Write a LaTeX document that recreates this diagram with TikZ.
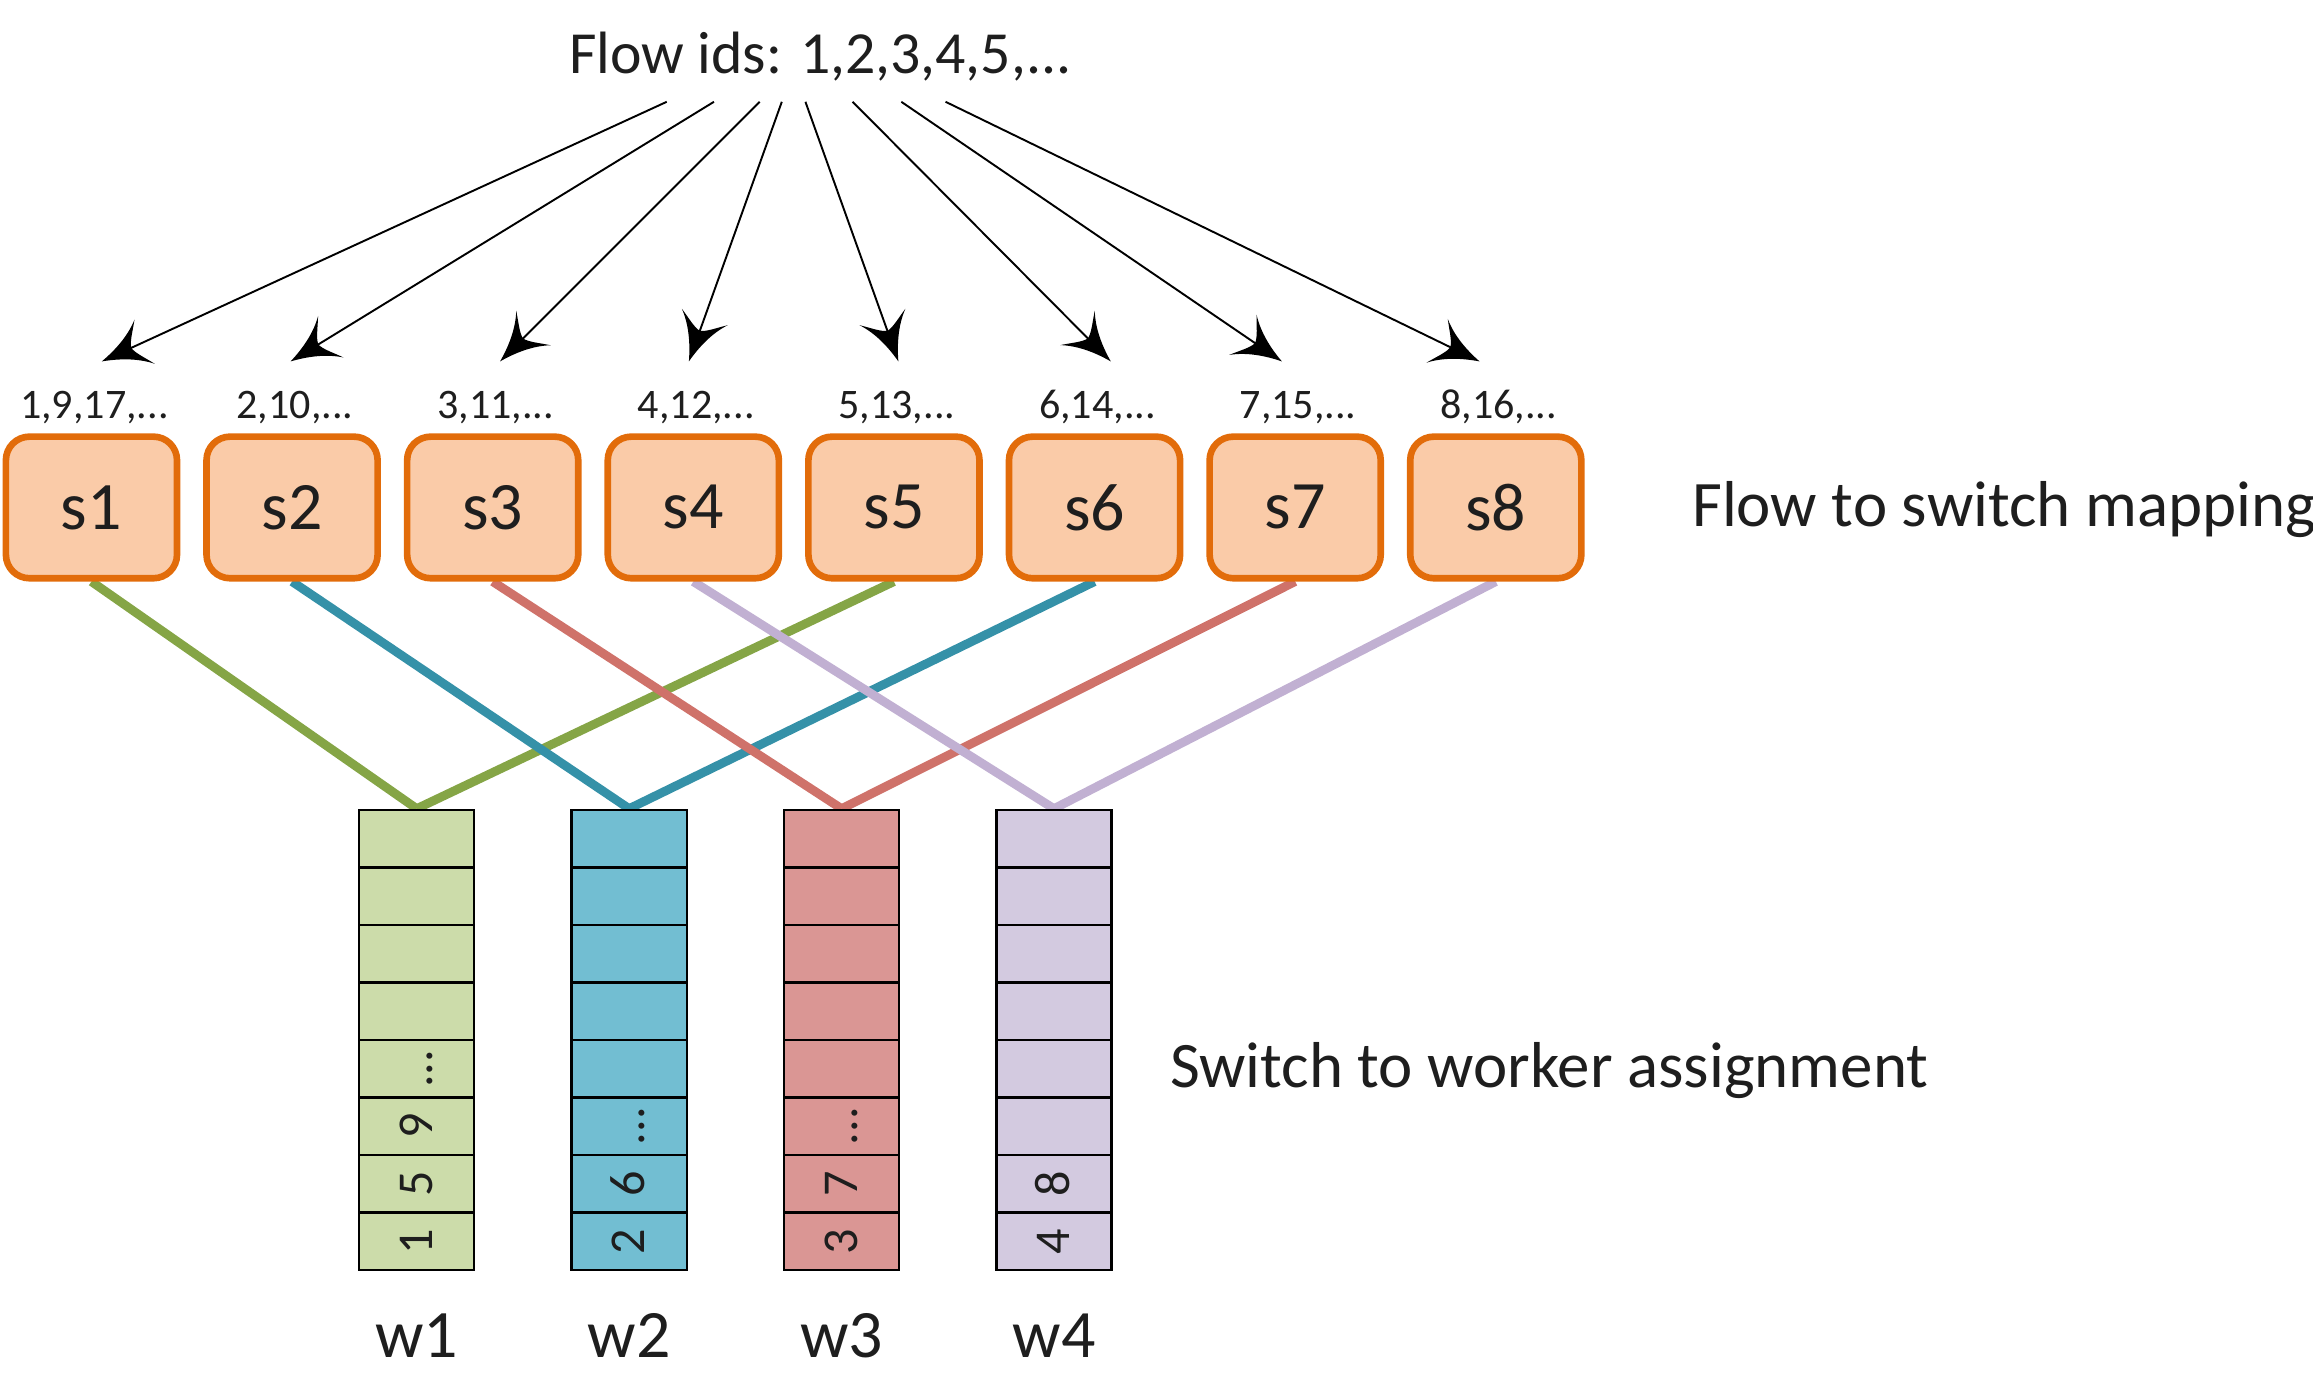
\documentclass[tikz,border=0pt]{standalone}
\usepackage{fontspec}
\setmainfont{Carlito}
\usetikzlibrary{arrows.meta}
\pgfdeclarelayer{background}
\pgfsetlayers{background,main}
\pgfdeclarearrow{
  name=CurvyHead,
  setup code={
    \pgfarrowssettipend{0pt}
    \pgfarrowssetbackend{-32pt}
    \pgfarrowssetlineend{-21pt}
    \pgfarrowshullpoint{0pt}{0pt}
    \pgfarrowshullpoint{-32pt}{16.5pt}
    \pgfarrowshullpoint{-32pt}{-16.5pt}
  },
  drawing code={
    \pgfpathmoveto{\pgfqpoint{0pt}{0pt}}
    \pgfpathcurveto{\pgfqpoint{-11pt}{3pt}}{\pgfqpoint{-23pt}{8pt}}{\pgfqpoint{-32pt}{16.5pt}}
    \pgfpathcurveto{\pgfqpoint{-27pt}{9pt}}{\pgfqpoint{-23pt}{4.5pt}}{\pgfqpoint{-22pt}{0pt}}
    \pgfpathcurveto{\pgfqpoint{-23pt}{-4.5pt}}{\pgfqpoint{-27pt}{-9pt}}{\pgfqpoint{-32pt}{-16.5pt}}
    \pgfpathcurveto{\pgfqpoint{-23pt}{-8pt}}{\pgfqpoint{-11pt}{-3pt}}{\pgfqpoint{0pt}{0pt}}
    \pgfpathclose
    \pgfusepathqfill
  }
}
\definecolor{boxfill}{RGB}{250,203,168}
\definecolor{boxdraw}{RGB}{226,108,10}
\definecolor{gline}{RGB}{133,165,70}
\definecolor{gfill}{RGB}{204,220,170}
\definecolor{bline}{RGB}{53,145,168}
\definecolor{bfill}{RGB}{114,190,210}
\definecolor{rline}{RGB}{207,114,106}
\definecolor{rfill}{RGB}{218,150,148}
\definecolor{pline}{RGB}{193,176,210}
\definecolor{pfill}{RGB}{211,202,224}
\definecolor{txt}{RGB}{30,30,30}
\begin{document}
\begin{tikzpicture}[x=1pt,y=-1pt,
  switchbox/.style={draw=boxdraw, line width=4.5pt, fill=boxfill, rounded corners=16pt,
    minimum width=116pt, minimum height=96pt, inner sep=0pt,
    font=\fontsize{46}{50}\selectfont, text=txt},
  maplabel/.style={font=\fontsize{28.5}{32}\selectfont, text=txt, anchor=base, inner sep=0pt},
  bigtext/.style={font=\fontsize{44}{48}\selectfont, text=txt, inner sep=0pt},
  cell/.style={draw=black, line width=1.6pt, minimum width=78pt, minimum height=39pt, inner sep=0pt},
  celltext/.style={rotate=90, font=\fontsize{34}{38}\selectfont, text=txt, inner sep=0pt,
    text height=21pt, text depth=0pt},
  wlabel/.style={font=\fontsize{46}{50}\selectfont, text=txt, anchor=base, inner sep=0pt},
  flowarrow/.style={line width=1.3pt, -CurvyHead},
  conn/.style={line width=6pt}
]
\useasboundingbox (0,0) rectangle (1568,932);

% title
\node[bigtext, font=\fontsize{40.5}{46}\selectfont, anchor=base] (title) at (556,50) {Flow ids: 1,2,3,4,5,...};

% switch boxes and labels
\foreach \i/\x/\lab in {1/62/{1,9,17,...},2/198/{2,10,...},3/334/{3,11,...},4/470/{4,12,...},
                        5/606/{5,13,...},6/742/{6,14,...},7/878/{7,15,...},8/1014/{8,16,...}}{
  \node[switchbox] (s\i) at (\x,344) {s\i};
  \node[maplabel] (l\i) at (\x+2,284) {\lab};
}

\node[bigtext, anchor=base west] (maptext) at (1147,357) {Flow to switch mapping};
\node[bigtext, anchor=base west] (assigntext) at (793,737) {Switch to worker assignment};

% arrow start and tip coordinates
\foreach \i/\sx/\tx in {1/452/69,2/484/197,3/515/339,4/530/467,5/546/609,6/578/753,7/611/869,8/641/1003}{
  \coordinate (f\i) at (\sx,69);
  \coordinate (t\i) at (\tx,245);
  \draw[flowarrow] (f\i) -- (t\i);
}

% worker columns
\foreach \w/\x/\fc in {1/282.5/gfill,2/426.5/bfill,3/570.5/rfill,4/714.5/pfill}{
  \foreach \k in {1,...,8}{
    \node[cell, fill=\fc] (c\w\k) at (\x,{841.5-39*(\k-1)}) {};
  }
  \node[wlabel] (w\w) at (\x,920) {w\w};
}

% cell texts
\node[celltext] at (c11) {1};
\node[celltext] at (c12) {5};
\node[celltext] at (c13) {9};
\node[celltext] at (c14) {...};
\node[celltext] at (c21) {2};
\node[celltext] at (c22) {6};
\node[celltext] at (c23) {...};
\node[celltext] at (c31) {3};
\node[celltext] at (c32) {7};
\node[celltext] at (c33) {...};
\node[celltext] at (c41) {4};
\node[celltext] at (c42) {8};

% connectors (right-hand switches first, left-hand ones on top)
\begin{pgfonlayer}{background}
  \draw[conn, gline] (s5.south) -- (c18.north);
  \draw[conn, bline] (s6.south) -- (c28.north);
  \draw[conn, rline] (s7.south) -- (c38.north);
  \draw[conn, pline] (s8.south) -- (c48.north);
  \draw[conn, gline] (s1.south) -- (c18.north);
  \draw[conn, bline] (s2.south) -- (c28.north);
  \draw[conn, rline] (s3.south) -- (c38.north);
  \draw[conn, pline] (s4.south) -- (c48.north);
\end{pgfonlayer}
\end{tikzpicture}
\end{document}
